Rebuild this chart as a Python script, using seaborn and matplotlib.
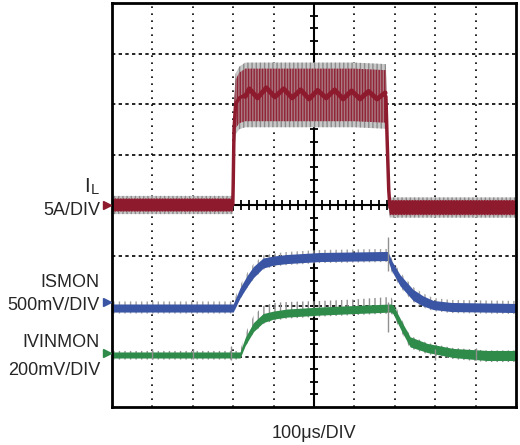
import numpy as np
import matplotlib
matplotlib.use("Agg")
import matplotlib.pyplot as plt
import seaborn as sns
import pandas as pd

# ---- data (horizontal: divisions of 100us, vertical: screen divisions) ----
il_t = [0.00, 2.99, 3.00, 3.02, 3.06, 3.15, 3.30, 6.00, 6.78, 6.81, 6.85, 6.88, 10.00]
il_c = [4.00, 4.00, 4.40, 5.50, 6.00, 6.12, 6.18, 6.18, 6.15, 5.30, 4.30, 3.95, 3.95]
il_w = [0.13, 0.13, 0.30, 0.45, 0.48, 0.50, 0.52, 0.52, 0.52, 0.50, 0.30, 0.15, 0.15]
il_g = [0.18, 0.18, 0.40, 0.55, 0.60, 0.62, 0.64, 0.64, 0.64, 0.60, 0.40, 0.20, 0.20]
il_rip_t = [3.30, 3.40, 3.60, 3.82, 4.03, 4.25, 4.46, 4.67, 4.88, 5.09, 5.30,
            5.51, 5.72, 5.93, 6.14, 6.35, 6.56, 6.76]
il_rip_y = [6.15, 6.30, 6.12, 6.32, 6.14, 6.30, 6.12, 6.28, 6.10, 6.27, 6.12,
            6.28, 6.10, 6.26, 6.10, 6.25, 6.10, 6.22]

is_t = [0.00, 3.00, 3.17, 3.35, 3.50, 3.74, 4.00, 4.33, 5.15, 6.83, 6.92, 7.13,
        7.45, 7.70, 7.95, 8.40, 10.00]
is_c = [1.96, 1.96, 2.26, 2.50, 2.67, 2.85, 2.90, 2.93, 2.97, 2.99, 2.80, 2.51,
        2.22, 2.10, 2.02, 1.98, 1.96]
is_w = [0.08, 0.08, 0.10, 0.11, 0.11, 0.10, 0.09, 0.09, 0.09, 0.09, 0.10, 0.11,
        0.11, 0.10, 0.09, 0.09, 0.09]

iv_t = [0.00, 3.17, 3.30, 3.50, 3.74, 4.00, 4.33, 5.15, 6.00, 6.90, 6.96, 7.18,
        7.38, 7.80, 8.44, 9.28, 10.00]
iv_c = [1.03, 1.03, 1.30, 1.58, 1.76, 1.82, 1.86, 1.90, 1.93, 1.96, 1.93, 1.58,
        1.29, 1.17, 1.07, 1.02, 1.02]
iv_w = [0.06, 0.06, 0.08, 0.09, 0.09, 0.08, 0.08, 0.08, 0.08, 0.08, 0.09, 0.10,
        0.10, 0.09, 0.09, 0.10, 0.10]
iv_up = [0.08, 0.08, 0.15, 0.22, 0.24, 0.24, 0.22, 0.20, 0.20, 0.22, 0.18, 0.14,
         0.12, 0.10, 0.10, 0.10, 0.10]

spike_t = [6.82, 6.82, 1.00, 2.00, 2.95, 8.00, 9.00]
spike_lo = [2.70, 1.49, 0.95, 0.95, 0.93, 0.94, 0.93]
spike_hi = [3.37, 2.08, 1.15, 1.15, 1.20, 1.14, 1.16]

markers_y = [4.00, 2.08, 1.075]
labels = [("5A/DIV", 3.80), ("ISMON", 2.376), ("500mV/DIV", 1.92),
          ("IVINMON", 1.19), ("200mV/DIV", 0.63)]
xlabel = "100\u03bcs/DIV"

RED = "#8E1A2E"
BLUE = "#3A55A4"
GREEN = "#2E8B4A"
colors = [RED, BLUE, GREEN]

sns.set_style("white")
plt.rcParams['font.family'] = ['Liberation Sans', 'DejaVu Sans']
plt.rcParams['hatch.linewidth'] = 1.0

fig = plt.figure(figsize=(5.2, 4.45), dpi=100)
ax = fig.add_axes([112/520, 38/445, 404/520, 404/445])
ax.set_xlim(0, 10)
ax.set_ylim(0, 8)
ax.set_xticks([])
ax.set_yticks([])
for s in ax.spines.values():
    s.set_linewidth(2.0)
    s.set_color("black")
    s.set_zorder(10)

# graticule
for gx in range(1, 10):
    if gx != 5:
        ax.axvline(gx, color="black", lw=1.2, ls=(0, (1, 3.2)), zorder=1)
for gy in range(1, 8):
    if gy != 4:
        ax.axhline(gy, color="black", lw=1.2, ls=(0, (2, 2)), zorder=1)
ax.axvline(5, color="black", lw=1.5, zorder=1)
ax.axhline(4, color="black", lw=1.5, zorder=1)
tx = np.arange(0.2, 10, 0.2)
ax.plot(tx, np.full_like(tx, 4.0), ls="none", marker="|", ms=7, mew=1.3, color="black", zorder=1)
ty = np.arange(0.25, 8, 0.25)
ax.plot(np.full_like(ty, 5.0), ty, ls="none", marker="_", ms=6, mew=1.3, color="black", zorder=1)

# IL
c = np.array(il_c); w = np.array(il_w); g = np.array(il_g)
ax.fill_between(il_t, c - g, c + g, facecolor="#C8C8C8", edgecolor="#8A8A8A",
                hatch="||||", lw=0, zorder=2)
ax.fill_between(il_t, c - w, c + w, facecolor="#A8737D", edgecolor=RED, hatch="||||||",
                lw=0, alpha=0.9, zorder=3)
df_il = pd.DataFrame({"t": il_t, "y": il_c})
sns.lineplot(data=df_il[df_il.t <= 3.3], x="t", y="y", color=RED, lw=2.5, ax=ax, zorder=4)
sns.lineplot(data=df_il[df_il.t >= 6.78], x="t", y="y", color=RED, lw=2.5, ax=ax, zorder=4)
df_rip = pd.DataFrame({"t": il_rip_t, "y": il_rip_y})
sns.lineplot(data=df_rip, x="t", y="y", color=RED, lw=3.5, ax=ax, zorder=4, sort=False)
ax.fill_between(il_t, c - w * 0.9, c + w * 0.9,
                where=[(t <= 3.0 or t >= 6.85) for t in il_t],
                color=RED, lw=0, zorder=4)

# ISMON
c = np.array(is_c); w = np.array(is_w)
ax.fill_between(is_t, c - w - 0.03, c + w + 0.05, facecolor="none", edgecolor="#A0A0A0",
                hatch="|||", lw=0, zorder=2)
ax.fill_between(is_t, c - w, c + w, color=BLUE, lw=0, zorder=3)

# IVINMON
c = np.array(iv_c); w = np.array(iv_w); up = np.array(iv_up)
ax.fill_between(iv_t, c - w - 0.03, c + up, facecolor="none", edgecolor="#909090",
                hatch="|||", lw=0, zorder=2)
ax.fill_between(iv_t, c - w, c + w, color=GREEN, lw=0, zorder=3)

# spikes
ax.vlines(spike_t, spike_lo, spike_hi, color="#909090", lw=1.0, zorder=3.5)

# channel markers
for my, col in zip(markers_y, colors):
    ax.plot([-0.12], [my], marker=">", ms=5.5, color=col, clip_on=False, zorder=11)

# labels
fs = 13
ax.text(-0.56, 4.257, "I", ha="right", va="baseline", fontsize=14.5, clip_on=False)
ax.text(-0.32, 4.218, "L", ha="right", va="baseline", fontsize=10.5, clip_on=False)
for txt, y in labels:
    ax.text(-0.30, y, txt, ha="right", va="baseline", fontsize=fs, clip_on=False)
ax.text(5.0, -0.614, xlabel, ha="center", va="baseline", fontsize=fs, clip_on=False)

ax.set_xlabel("")
ax.set_ylabel("")
fig.savefig("out.png", dpi=100)
